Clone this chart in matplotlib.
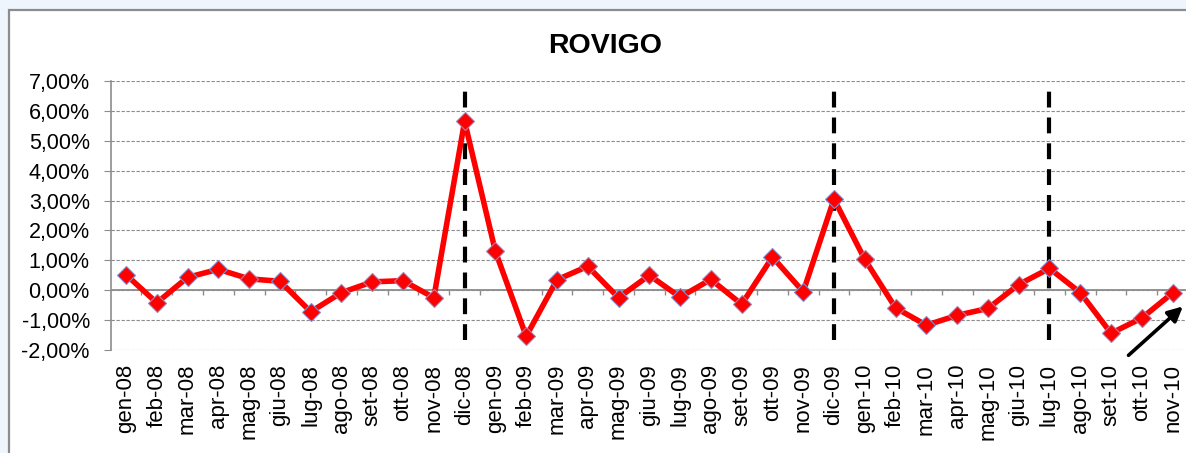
import numpy as np
import matplotlib.pyplot as plt
from matplotlib.patches import Rectangle
from matplotlib.ticker import FuncFormatter

plt.rcParams['font.family'] = ['Liberation Sans', 'DejaVu Sans']

# Dati: variazione mensile (%) - Rovigo
mesi = ['gen-08', 'feb-08', 'mar-08', 'apr-08', 'mag-08', 'giu-08', 'lug-08', 'ago-08',
        'set-08', 'ott-08', 'nov-08', 'dic-08',
        'gen-09', 'feb-09', 'mar-09', 'apr-09', 'mag-09', 'giu-09', 'lug-09', 'ago-09',
        'set-09', 'ott-09', 'nov-09', 'dic-09',
        'gen-10', 'feb-10', 'mar-10', 'apr-10', 'mag-10', 'giu-10', 'lug-10', 'ago-10',
        'set-10', 'ott-10', 'nov-10']
valori = [0.52, -0.42, 0.43, 0.70, 0.38, 0.30, -0.72, -0.08,
          0.28, 0.32, -0.25, 5.65,
          1.30, -1.54, 0.35, 0.80, -0.25, 0.50, -0.23, 0.36,
          -0.47, 1.11, -0.05, 3.05,
          1.03, -0.59, -1.17, -0.84, -0.61, 0.19, 0.73, -0.08,
          -1.44, -0.93, -0.09]
# mesi evidenziati con linea tratteggiata
mesi_evidenziati = ['dic-08', 'dic-09', 'lug-10']

W, H = 1186, 453
fig = plt.figure(figsize=(W / 100, H / 100), dpi=100)
fig.patch.set_facecolor('#EEF5FD')

# cornice del grafico
fig.patches.append(Rectangle((9 / W, -0.2), 2.0, 1.2 - 10 / H, transform=fig.transFigure,
                             facecolor='white', edgecolor='#8C8C8C', linewidth=1.6, zorder=-10))

ax = fig.add_axes([110.6 / W, 1 - 350 / H, (1188 - 110.6) / W, 269 / H])
ax.set_facecolor('none')

x = np.arange(len(mesi))
ax.set_xlim(-0.5, len(mesi) - 0.5)
ax.set_ylim(-2, 7)

# griglia orizzontale
for g in np.arange(-2, 8, 1):
    ax.axhline(g, color='#8C8C8C', lw=0.8, ls=(0, (3, 1.5)), zorder=1)

# asse x sullo zero con tacche tra le categorie
ax.axhline(0, color='#8C8C8C', lw=1.3, zorder=2)
ax.vlines(np.arange(0.5, len(mesi) - 0.5, 1), -0.17, 0, color='#8C8C8C', lw=1.0, zorder=2)

# linee verticali tratteggiate
for m in mesi_evidenziati:
    ax.plot([mesi.index(m)] * 2, [-1.67, 6.87], color='black', lw=3.0,
            dashes=(3.8, 2.4), zorder=3)

ax.plot(x, valori, color='#FF0000', lw=4.0, marker='D', markersize=9,
        markerfacecolor='#FF0000', markeredgecolor='#8A8AC8', markeredgewidth=0.8, zorder=4)

ax.set_xticks(x)
ax.set_xticklabels(mesi, rotation=90, fontsize=16)
ax.tick_params(axis='x', length=0, pad=10)
ax.set_yticks(np.arange(-2, 8, 1))
ax.yaxis.set_major_formatter(FuncFormatter(lambda v, p: f'{v:.2f}%'.replace('.', ',')))
ax.tick_params(axis='y', labelsize=15.5, length=5, color='#8C8C8C', pad=10)

for s in ['top', 'right', 'bottom']:
    ax.spines[s].set_visible(False)
ax.spines['left'].set_color('#8C8C8C')
ax.spines['left'].set_linewidth(1.2)

# freccia
ax.annotate('', xy=(34.4, -0.48), xytext=(32.5, -2.24), annotation_clip=False,
            arrowprops=dict(arrowstyle='-|>', color='black', lw=2.6, mutation_scale=22))

fig.text(605 / W, 1 - 46 / H, 'ROVIGO', ha='center', va='center',
         fontsize=20.5, fontweight='bold')

fig.savefig('out.png', dpi=100)
